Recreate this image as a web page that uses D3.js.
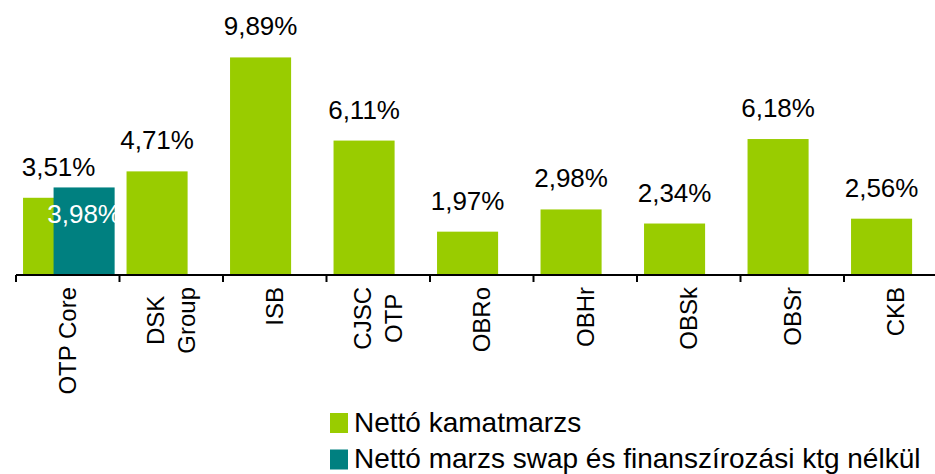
<!DOCTYPE html>
<html>
<head>
<meta charset="utf-8">
<script src="https://cdn.jsdelivr.net/npm/d3@7"></script>
<style>
  body { margin: 0; background: #fff; }
  text { font-family: "Liberation Sans", Arial, sans-serif; }
</style>
</head>
<body>
<div id="chart"></div>
<script>
(() => {

  // data
  let categories = ["OTP Core", "DSK\nGroup", "ISB", "CJSC\nOTP", "OBRo", "OBHr", "OBSk", "OBSr", "CKB"]
  let netMargin = [3.51, 4.71, 9.89, 6.11, 1.97, 2.98, 2.34, 6.18, 2.56]
  let adjMargin = [3.98, null, null, null, null, null, null, null, null]
  let seriesNames = ["Nettó kamatmarzs", "Nettó marzs swap és finanszírozási ktg nélkül"]
  let colors = ["#99cc00", "#008080"]

  let width = 935, height = 474
  let svg = d3.select("#chart")
  .append("svg")
  .attr("width", width)
  .attr("height", height)

  let x = d3.scaleBand()
  .domain(categories)
  .range([16, 947.5])

  let y = d3.scaleLinear()
  .domain([0, 10])
  .range([275, 55])

  let bw = x.bandwidth()
  let barW = bw * 0.59
  let barOff = bw * 0.068
  let shift = bw * 0.295

  let fmt = v => d3.format(".2f")(v).replace(".", ",") + "%"

  // green bars
  svg.selectAll(".bar-net")
  .data(categories)
  .enter()
  .append("rect")
  .attr("class", "bar-net")
  .attr("x", d => x(d) + barOff)
  .attr("y", (d,i) => y(netMargin[i]))
  .attr("width", barW)
  .attr("height", (d,i) => y(0) - y(netMargin[i]))
  .attr("fill", colors[0])

  // teal bars (only where we have a value)
  let adj = categories.map((c,i) => ({c: c, v: adjMargin[i]})).filter(d => d.v != null)
  svg.selectAll(".bar-adj")
  .data(adj)
  .enter()
  .append("rect")
  .attr("class", "bar-adj")
  .attr("x", d => x(d.c) + barOff + shift)
  .attr("y", d => y(d.v))
  .attr("width", barW)
  .attr("height", d => y(0) - y(d.v))
  .attr("fill", colors[1])

  // value labels
  svg.selectAll(".lbl-net")
  .data(categories)
  .enter()
  .append("text")
  .attr("x", (d,i) => x(d) + barOff + barW / 2 + (adjMargin[i] != null ? 5 : 0))
  .attr("y", (d,i) => y(netMargin[i]) - 22)
  .text((d,i) => fmt(netMargin[i]))
  .style("font-size", "26px")
  .style("text-anchor", "middle")
  .attr("fill", "#000")

  svg.selectAll(".lbl-adj")
  .data(adj)
  .enter()
  .append("text")
  .attr("x", d => x(d.c) + barOff + shift + barW / 2)
  .attr("y", d => y(d.v) + 36)
  .text(d => fmt(d.v))
  .style("font-size", "26px")
  .style("text-anchor", "middle")
  .attr("fill", "#fff")

  // axis
  svg.append("line")
  .attr("x1", x.range()[0])
  .attr("x2", x.range()[1])
  .attr("y1", y(0))
  .attr("y2", y(0))
  .attr("stroke", "#000")
  .attr("stroke-width", 2)

  svg.selectAll(".tick")
  .data(categories)
  .enter()
  .append("line")
  .attr("x1", d => x(d))
  .attr("x2", d => x(d))
  .attr("y1", y(0))
  .attr("y2", y(0) + 7)
  .attr("stroke", "#000")
  .attr("stroke-width", 2)

  // category labels, rotated, lines centred on each other
  let labelTop = 287
  let lineGap = 31
  categories.forEach(c => {
    let lines = c.split("\n")
    let cx = x(c) + bw / 2
    let g = svg.append("g")
    let texts = lines.map((l, j) => g.append("text")
      .text(l)
      .style("font-size", "24px")
      .style("text-anchor", "middle")
      .attr("fill", "#000"))
    let maxLen = d3.max(texts, t => t.node().getComputedTextLength())
    let yc = labelTop + maxLen / 2
    texts.forEach((t, j) => {
      let xc = cx + (j - (lines.length - 1) / 2) * lineGap + 8.5
      t.attr("transform", "translate(" + xc + "," + yc + ") rotate(-90)")
    })
  })

  // legend
  let legend = svg.selectAll(".legend")
  .data(seriesNames)
  .enter()
  .append("g")
  .attr("transform", (d,i) => "translate(330," + (413 + i * 36.5) + ")")

  legend.append("rect")
  .attr("width", 18)
  .attr("height", 20)
  .attr("fill", (d,i) => colors[i])

  legend.append("text")
  .attr("x", 24)
  .attr("y", 18.5)
  .text(d => d)
  .style("font-size", "28px")
  .attr("fill", "#000")

})()
</script>
</body>
</html>
